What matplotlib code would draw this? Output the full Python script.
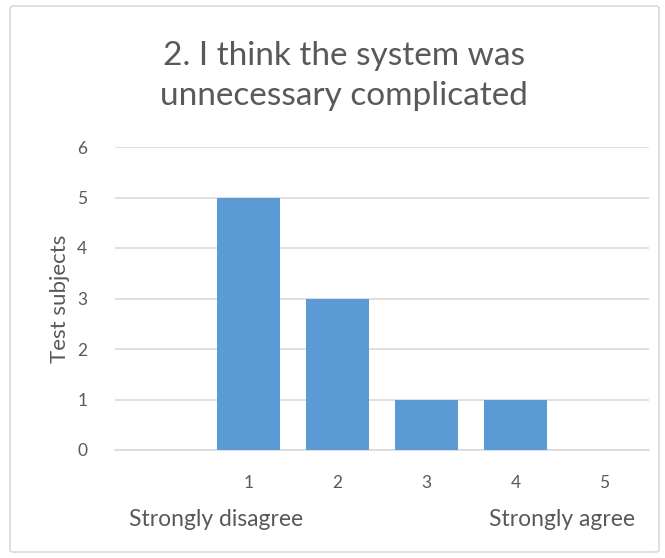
import matplotlib
matplotlib.use("Agg")
import matplotlib.pyplot as plt
from matplotlib.patches import FancyBboxPatch

categories = ["", "1", "2", "3", "4", "5"]
values = [0, 5, 3, 1, 1, 0]
yticks = [0, 1, 2, 3, 4, 5, 6]
title = "2. I think the system was\nunnecessary complicated"
ylabel = "Test subjects"
outer_labels = ["Strongly disagree", "Strongly agree"]
outer_pos = [0.63, 4.52]

plt.rcParams['font.family'] = ['Lato', 'DejaVu Sans']
gray = "#595959"

W, H = 665, 558
fig = plt.figure(figsize=(W/100, H/100), dpi=100)
fig.patches.append(FancyBboxPatch((10/W, 6/H), (W-16)/W, (H-12)/H,
                                  boxstyle="round,pad=0,rounding_size=0.005",
                                  transform=fig.transFigure, fill=False,
                                  edgecolor="#d9d9d9", linewidth=1.2))
ax = fig.add_axes([115/W, 1-450/H, (649-115)/W, (450-147)/H])
x = list(range(len(categories)))
ax.bar(x, values, width=0.71, color="#5b9bd5", zorder=3)
ax.set_xlim(-0.5, 5.5)
ax.set_ylim(0, 6)
ax.set_yticks(yticks)
ax.set_yticklabels([str(v) for v in yticks], fontsize=12.5, color=gray)
ax.set_xticks(x)
ax.set_xticklabels(categories, fontsize=12.5, color=gray)
ax.tick_params(length=0)
ax.tick_params(axis='x', pad=18)
ax.tick_params(axis='y', pad=20)
ax.yaxis.grid(True, color="#d9d9d9", linewidth=1.2, zorder=0)
for s in ["top", "right", "left"]:
    ax.spines[s].set_visible(False)
ax.spines["bottom"].set_color("#d9d9d9")
ax.spines["bottom"].set_linewidth(1.2)
ax.set_ylabel(ylabel, fontsize=16, color=gray, labelpad=5)
for lbl, p in zip(outer_labels, outer_pos):
    ax.text(p, -0.23, lbl, transform=ax.get_xaxis_transform(), ha="center", va="center",
            fontsize=16.5, color=gray)
fig.text(344/W, 1-76/H, title, ha="center", va="center", fontsize=24, color=gray, linespacing=1.4)
fig.savefig("out.png", dpi=100)
